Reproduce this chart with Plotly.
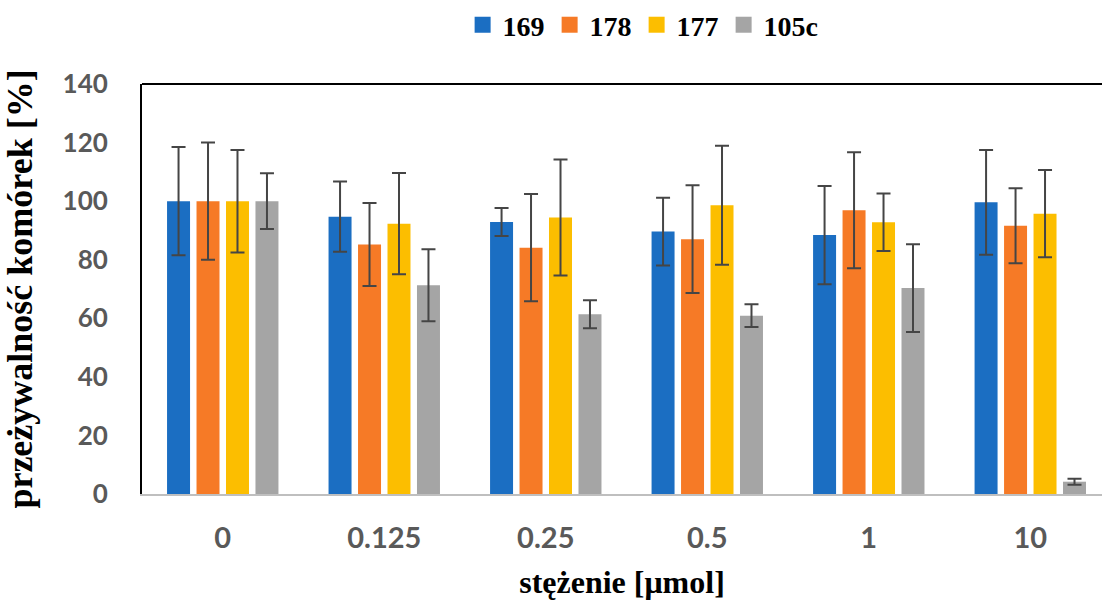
import plotly.graph_objects as go

categories = ["0", "0.125", "0.25", "0.5", "1", "10"]

series_names = ["169", "178", "177", "105c"]
s169 = [100, 94.7, 92.9, 89.6, 88.4, 99.6]
s178 = [100, 85.2, 84.1, 87.0, 96.9, 91.6]
s177 = [100, 92.3, 94.4, 98.6, 92.8, 95.7]
s105c = [100, 71.3, 61.4, 60.9, 70.3, 4.2]

e169 = [18.5, 12.0, 4.8, 11.6, 16.8, 17.9]
e178 = [20.0, 14.2, 18.3, 18.4, 19.8, 12.8]
e177 = [17.5, 17.3, 19.8, 20.3, 9.8, 14.9]
e105c = [9.5, 12.3, 4.8, 3.9, 15.0, 1.0]

colors = ["#1B6EC2", "#F67A26", "#FCBE00", "#A5A5A5"]

values = [s169, s178, s177, s105c]
errors = [e169, e178, e177, e105c]

fig = go.Figure()
for name, vals, errs, col in zip(series_names, values, errors, colors):
    fig.add_trace(go.Bar(
        x=categories, y=vals, name=name, marker_color=col,
        marker_line_width=0, showlegend=False,
        error_y=dict(type="data", array=errs, visible=True,
                     color="#454545", thickness=2, width=7),
    ))
# legend entries
for name, col in zip(series_names, colors):
    fig.add_trace(go.Scatter(
        x=[None], y=[None], mode="markers", name=name,
        marker=dict(symbol="square", size=16, color=col),
        showlegend=True,
    ))

serif = "Liberation Serif"
sans = "Lato"

fig.update_layout(
    width=1102, height=606,
    margin=dict(l=142, r=0, t=84, b=112),
    paper_bgcolor="white", plot_bgcolor="white",
    barmode="group", bargap=0.27, bargroupgap=0.22,
    legend=dict(orientation="h", x=0.522, xanchor="center",
                yref="container", y=0.9587, yanchor="middle",
                font=dict(family=serif, size=28, color="black", weight="bold"),
                itemwidth=30, tracegroupgap=0, traceorder="normal"),
    showlegend=True,
    xaxis=dict(
        type="category", categoryorder="array", categoryarray=categories,
        range=[-0.5, 5.444], automargin=False, tickangle=0,
        showline=True, linecolor="#BFBFBF", linewidth=1.5,
        showgrid=False, ticks="", ticklabelstandoff=17,
        tickfont=dict(family=sans, size=29, color="#595959", weight="bold"),
        title=dict(text="stężenie [μmol]", standoff=18,
                   font=dict(family=serif, size=32, color="black", weight="bold")),
    ),
    yaxis=dict(
        range=[0, 140], dtick=20, tick0=0, automargin=False,
        showline=True, linecolor="black", linewidth=2,
        showgrid=False, zeroline=False, ticks="", ticklabelstandoff=27,
        tickfont=dict(family=sans, size=26, color="#595959", weight="bold"),
        title=dict(text="przeżywalność komórek [%]", standoff=19,
                   font=dict(family=serif, size=36, color="black", weight="bold")),
    ),
    shapes=[dict(type="line", xref="paper", yref="paper", x0=0, x1=1, y0=1, y1=1,
                 line=dict(color="black", width=2))],
)

fig.write_html("out.html", config={"displayModeBar": False},
               post_script="document.body.style.margin='0px';")
